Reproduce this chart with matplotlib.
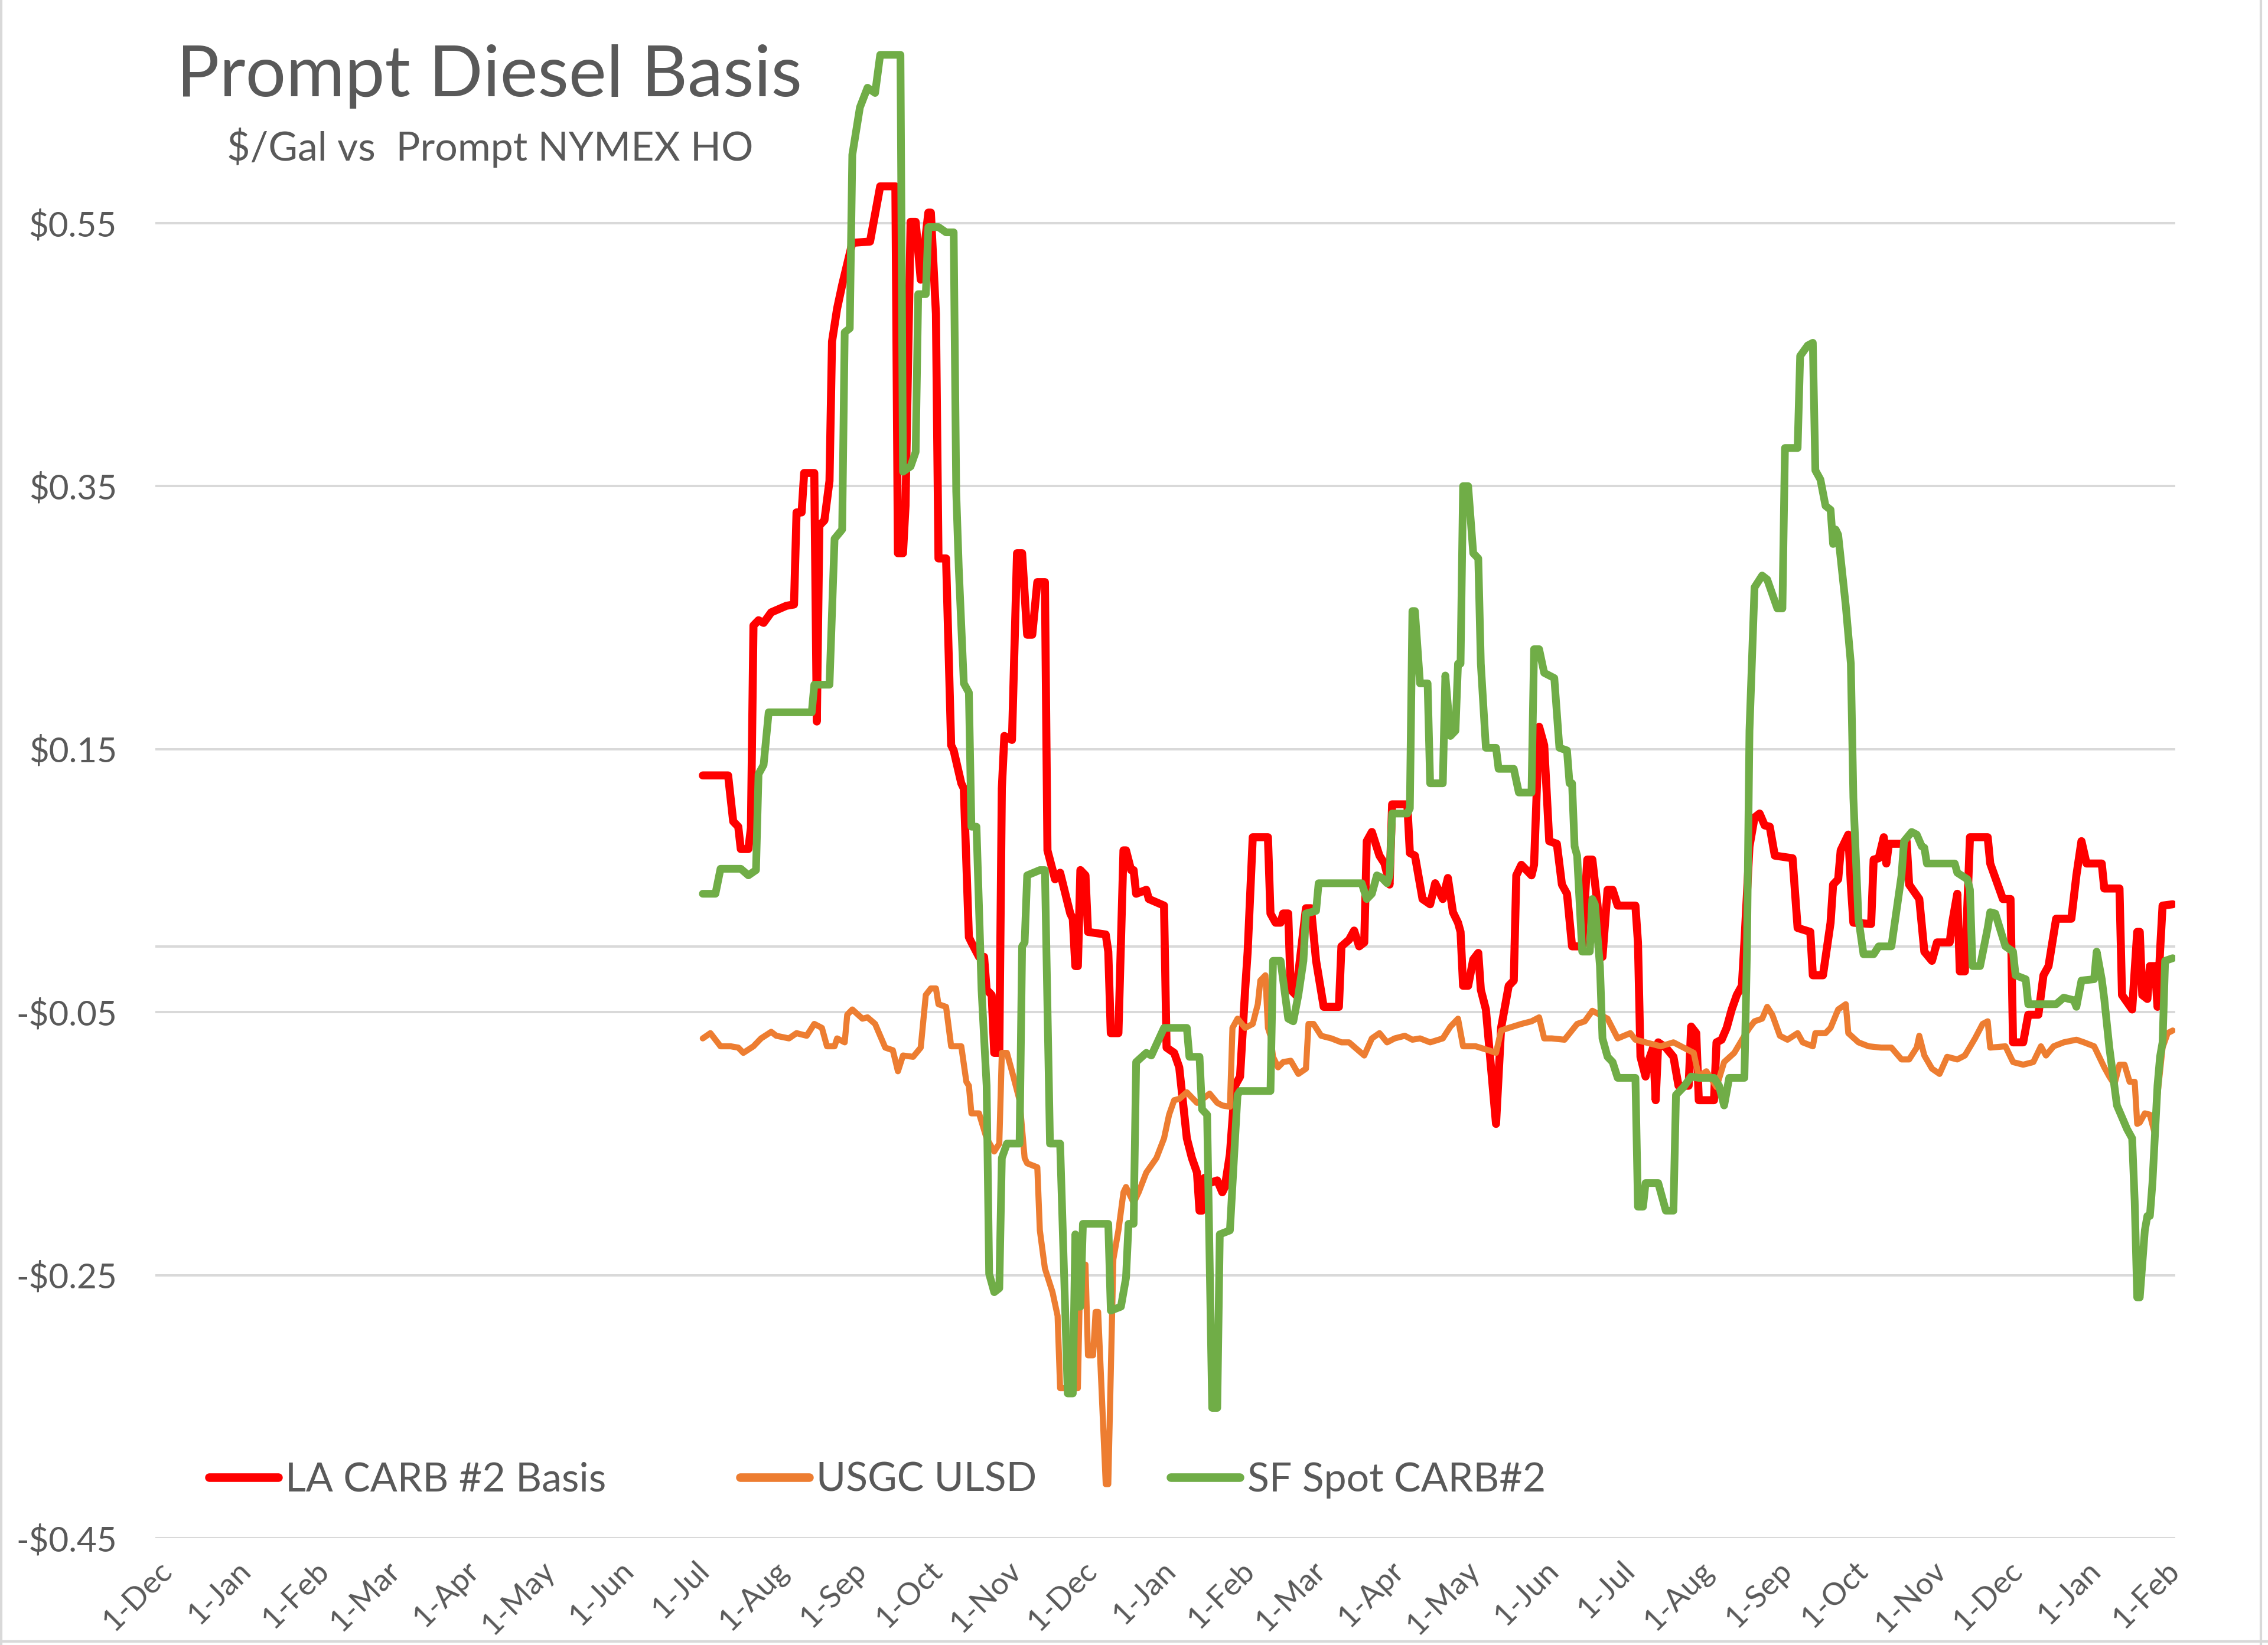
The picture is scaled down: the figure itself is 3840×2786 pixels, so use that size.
import matplotlib
matplotlib.use('Agg')
import matplotlib.pyplot as plt
import matplotlib.dates as mdates
import pandas as pd

plt.rcParams['font.family'] = ['Lato', 'DejaVu Sans']

# basis vs prompt NYMEX HO, $/gal
la_carb = [
    ('2022-07-04', 0.130), ('2022-07-14', 0.130), ('2022-07-16', 0.095), ('2022-07-18', 0.091),
    ('2022-07-19', 0.074), ('2022-07-22', 0.074), ('2022-07-23', 0.090), ('2022-07-24', 0.244),
    ('2022-07-26', 0.248), ('2022-07-28', 0.246), ('2022-07-31', 0.254), ('2022-08-06', 0.259),
    ('2022-08-09', 0.260), ('2022-08-10', 0.330), ('2022-08-12', 0.330), ('2022-08-13', 0.360),
    ('2022-08-17', 0.360), ('2022-08-18', 0.171), ('2022-08-19', 0.320), ('2022-08-21', 0.324),
    ('2022-08-23', 0.354), ('2022-08-24', 0.460), ('2022-08-26', 0.485), ('2022-08-28', 0.503),
    ('2022-09-01', 0.535), ('2022-09-08', 0.536), ('2022-09-12', 0.578), ('2022-09-18', 0.578),
    ('2022-09-19', 0.299), ('2022-09-21', 0.299), ('2022-09-22', 0.335), ('2022-09-24', 0.551),
    ('2022-09-26', 0.551), ('2022-09-28', 0.507), ('2022-10-01', 0.558), ('2022-10-02', 0.558),
    ('2022-10-04', 0.481), ('2022-10-05', 0.295), ('2022-10-08', 0.295), ('2022-10-10', 0.153),
    ('2022-10-11', 0.149), ('2022-10-14', 0.124), ('2022-10-15', 0.120), ('2022-10-17', 0.007),
    ('2022-10-18', 0.003), ('2022-10-21', -0.008), ('2022-10-23', -0.008), ('2022-10-24', -0.033),
    ('2022-10-26', -0.037), ('2022-10-27', -0.081), ('2022-10-29', -0.081), ('2022-10-30', 0.120),
    ('2022-10-31', 0.160), ('2022-11-03', 0.157), ('2022-11-05', 0.299), ('2022-11-07', 0.299),
    ('2022-11-09', 0.237), ('2022-11-11', 0.237), ('2022-11-13', 0.277), ('2022-11-16', 0.277),
    ('2022-11-17', 0.073), ('2022-11-20', 0.051), ('2022-11-22', 0.056), ('2022-11-26', 0.025),
    ('2022-11-27', 0.021), ('2022-11-28', -0.015), ('2022-11-29', -0.015), ('2022-11-30', 0.058),
    ('2022-12-02', 0.054), ('2022-12-03', 0.011), ('2022-12-10', 0.009), ('2022-12-11', -0.004),
    ('2022-12-12', -0.066), ('2022-12-15', -0.066), ('2022-12-17', 0.073), ('2022-12-18', 0.073),
    ('2022-12-20', 0.058), ('2022-12-21', 0.058), ('2022-12-22', 0.040), ('2022-12-26', 0.043),
    ('2022-12-27', 0.036), ('2023-01-02', 0.031), ('2023-01-03', -0.077), ('2023-01-06', -0.081),
    ('2023-01-08', -0.092), ('2023-01-11', -0.146), ('2023-01-13', -0.161), ('2023-01-15', -0.172),
    ('2023-01-16', -0.201), ('2023-01-17', -0.201), ('2023-01-18', -0.176), ('2023-01-20', -0.180),
    ('2023-01-23', -0.178), ('2023-01-25', -0.187), ('2023-01-26', -0.183), ('2023-01-28', -0.158),
    ('2023-01-30', -0.106), ('2023-02-01', -0.099), ('2023-02-03', -0.033), ('2023-02-04', -0.004),
    ('2023-02-06', 0.083), ('2023-02-12', 0.083), ('2023-02-13', 0.025), ('2023-02-15', 0.018),
    ('2023-02-17', 0.018), ('2023-02-18', 0.025), ('2023-02-20', 0.025), ('2023-02-21', -0.033),
    ('2023-02-23', -0.037), ('2023-02-25', -0.004), ('2023-02-27', 0.029), ('2023-03-01', 0.029),
    ('2023-03-03', -0.011), ('2023-03-06', -0.046), ('2023-03-12', -0.046), ('2023-03-13', 0.000),
    ('2023-03-16', 0.005), ('2023-03-18', 0.012), ('2023-03-20', 0.000), ('2023-03-22', 0.003),
    ('2023-03-23', 0.080), ('2023-03-25', 0.087), ('2023-03-28', 0.069), ('2023-03-30', 0.063),
    ('2023-04-01', 0.047), ('2023-04-02', 0.108), ('2023-04-08', 0.108), ('2023-04-09', 0.071),
    ('2023-04-11', 0.069), ('2023-04-14', 0.036), ('2023-04-17', 0.032), ('2023-04-19', 0.048),
    ('2023-04-22', 0.036), ('2023-04-24', 0.052), ('2023-04-26', 0.026), ('2023-04-28', 0.018),
    ('2023-04-29', 0.011), ('2023-04-30', -0.030), ('2023-05-02', -0.030), ('2023-05-04', -0.010),
    ('2023-05-06', -0.005), ('2023-05-07', -0.033), ('2023-05-09', -0.048), ('2023-05-13', -0.135),
    ('2023-05-15', -0.062), ('2023-05-18', -0.030), ('2023-05-20', -0.026), ('2023-05-21', 0.054),
    ('2023-05-23', 0.062), ('2023-05-27', 0.054), ('2023-05-28', 0.062), ('2023-05-30', 0.167),
    ('2023-06-01', 0.153), ('2023-06-03', 0.080), ('2023-06-06', 0.078), ('2023-06-08', 0.047),
    ('2023-06-10', 0.040), ('2023-06-12', 0.000), ('2023-06-16', 0.000), ('2023-06-18', 0.066),
    ('2023-06-20', 0.066), ('2023-06-22', 0.032), ('2023-06-24', -0.008), ('2023-06-26', 0.043),
    ('2023-06-28', 0.043), ('2023-06-30', 0.031), ('2023-07-07', 0.031), ('2023-07-08', 0.003),
    ('2023-07-09', -0.084), ('2023-07-11', -0.099), ('2023-07-12', -0.088), ('2023-07-14', -0.077),
    ('2023-07-15', -0.117), ('2023-07-16', -0.073), ('2023-07-19', -0.077), ('2023-07-22', -0.084),
    ('2023-07-24', -0.106), ('2023-07-28', -0.106), ('2023-07-29', -0.061), ('2023-07-31', -0.066),
    ('2023-08-01', -0.117), ('2023-08-07', -0.117), ('2023-08-08', -0.073), ('2023-08-10', -0.071),
    ('2023-08-12', -0.062), ('2023-08-14', -0.048), ('2023-08-16', -0.037), ('2023-08-18', -0.030),
    ('2023-08-19', 0.003), ('2023-08-21', 0.076), ('2023-08-23', 0.098), ('2023-08-25', 0.101),
    ('2023-08-27', 0.092), ('2023-08-29', 0.091), ('2023-08-31', 0.069), ('2023-09-07', 0.067),
    ('2023-09-09', 0.014), ('2023-09-14', 0.011), ('2023-09-15', -0.022), ('2023-09-19', -0.022),
    ('2023-09-22', 0.018), ('2023-09-23', 0.047), ('2023-09-25', 0.051), ('2023-09-26', 0.073),
    ('2023-09-29', 0.085), ('2023-09-30', 0.047), ('2023-10-01', 0.018), ('2023-10-08', 0.017),
    ('2023-10-09', 0.066), ('2023-10-11', 0.067), ('2023-10-13', 0.083), ('2023-10-14', 0.063),
    ('2023-10-15', 0.078), ('2023-10-20', 0.078), ('2023-10-22', 0.080), ('2023-10-23', 0.047),
    ('2023-10-27', 0.036), ('2023-10-29', -0.004), ('2023-11-01', -0.011), ('2023-11-03', 0.003),
    ('2023-11-08', 0.003), ('2023-11-09', 0.018), ('2023-11-11', 0.040), ('2023-11-12', -0.019),
    ('2023-11-14', -0.019), ('2023-11-16', 0.083), ('2023-11-23', 0.083), ('2023-11-24', 0.063),
    ('2023-11-29', 0.036), ('2023-12-02', 0.036), ('2023-12-03', -0.073), ('2023-12-07', -0.073),
    ('2023-12-09', -0.052), ('2023-12-13', -0.052), ('2023-12-15', -0.022), ('2023-12-17', -0.015),
    ('2023-12-20', 0.021), ('2023-12-26', 0.021), ('2023-12-28', 0.054), ('2023-12-30', 0.080),
    ('2024-01-01', 0.063), ('2024-01-07', 0.063), ('2024-01-08', 0.044), ('2024-01-14', 0.044),
    ('2024-01-15', -0.037), ('2024-01-19', -0.048), ('2024-01-21', 0.011), ('2024-01-22', 0.011),
    ('2024-01-23', -0.037), ('2024-01-25', -0.040), ('2024-01-26', -0.015), ('2024-01-28', -0.015),
    ('2024-01-29', -0.046), ('2024-01-30', -0.004), ('2024-01-31', 0.031), ('2024-02-04', 0.032),
]

usgc_ulsd = [
    ('2022-07-04', -0.070), ('2022-07-07', -0.066), ('2022-07-11', -0.076), ('2022-07-15', -0.076),
    ('2022-07-18', -0.077), ('2022-07-20', -0.081), ('2022-07-24', -0.076), ('2022-07-27', -0.070),
    ('2022-07-31', -0.065), ('2022-08-02', -0.068), ('2022-08-07', -0.070), ('2022-08-10', -0.066),
    ('2022-08-14', -0.068), ('2022-08-17', -0.059), ('2022-08-20', -0.062), ('2022-08-22', -0.076),
    ('2022-08-25', -0.076), ('2022-08-26', -0.070), ('2022-08-29', -0.073), ('2022-08-30', -0.052),
    ('2022-09-01', -0.048), ('2022-09-05', -0.055), ('2022-09-07', -0.054), ('2022-09-10', -0.059),
    ('2022-09-14', -0.077), ('2022-09-17', -0.079), ('2022-09-19', -0.095), ('2022-09-21', -0.083),
    ('2022-09-25', -0.084), ('2022-09-28', -0.077), ('2022-09-30', -0.037), ('2022-10-02', -0.032),
    ('2022-10-04', -0.032), ('2022-10-05', -0.044), ('2022-10-08', -0.046), ('2022-10-10', -0.076),
    ('2022-10-14', -0.076), ('2022-10-16', -0.103), ('2022-10-17', -0.106), ('2022-10-18', -0.127),
    ('2022-10-21', -0.127), ('2022-10-24', -0.146), ('2022-10-27', -0.156), ('2022-10-29', -0.150),
    ('2022-10-30', -0.081), ('2022-11-01', -0.081), ('2022-11-03', -0.095), ('2022-11-06', -0.117),
    ('2022-11-08', -0.161), ('2022-11-09', -0.165), ('2022-11-13', -0.168), ('2022-11-14', -0.216),
    ('2022-11-16', -0.245), ('2022-11-19', -0.263), ('2022-11-21', -0.281), ('2022-11-22', -0.336),
    ('2022-11-29', -0.336), ('2022-11-30', -0.242), ('2022-12-02', -0.242), ('2022-12-03', -0.311),
    ('2022-12-05', -0.311), ('2022-12-06', -0.278), ('2022-12-07', -0.278), ('2022-12-10', -0.409),
    ('2022-12-11', -0.409), ('2022-12-13', -0.238), ('2022-12-15', -0.216), ('2022-12-17', -0.187),
    ('2022-12-18', -0.183), ('2022-12-21', -0.195), ('2022-12-23', -0.187), ('2022-12-26', -0.172),
    ('2022-12-30', -0.161), ('2023-01-02', -0.146), ('2023-01-04', -0.128), ('2023-01-06', -0.117),
    ('2023-01-08', -0.116), ('2023-01-11', -0.111), ('2023-01-15', -0.119), ('2023-01-18', -0.115),
    ('2023-01-20', -0.112), ('2023-01-23', -0.119), ('2023-01-25', -0.121), ('2023-01-28', -0.122),
    ('2023-01-29', -0.062), ('2023-01-31', -0.055), ('2023-02-03', -0.062), ('2023-02-06', -0.059),
    ('2023-02-08', -0.044), ('2023-02-09', -0.026), ('2023-02-11', -0.022), ('2023-02-12', -0.062),
    ('2023-02-13', -0.068), ('2023-02-14', -0.084), ('2023-02-16', -0.092), ('2023-02-18', -0.088),
    ('2023-02-21', -0.087), ('2023-02-24', -0.097), ('2023-02-27', -0.093), ('2023-02-28', -0.059),
    ('2023-03-02', -0.059), ('2023-03-05', -0.068), ('2023-03-09', -0.070), ('2023-03-13', -0.073),
    ('2023-03-16', -0.073), ('2023-03-19', -0.078), ('2023-03-22', -0.083), ('2023-03-25', -0.070),
    ('2023-03-28', -0.066), ('2023-03-31', -0.073), ('2023-04-03', -0.070), ('2023-04-07', -0.068),
    ('2023-04-10', -0.071), ('2023-04-13', -0.070), ('2023-04-17', -0.073), ('2023-04-22', -0.070),
    ('2023-04-25', -0.061), ('2023-04-28', -0.055), ('2023-04-30', -0.076), ('2023-05-05', -0.076),
    ('2023-05-10', -0.079), ('2023-05-13', -0.081), ('2023-05-15', -0.064), ('2023-05-18', -0.062),
    ('2023-05-23', -0.059), ('2023-05-27', -0.057), ('2023-05-30', -0.054), ('2023-06-01', -0.070),
    ('2023-06-04', -0.070), ('2023-06-09', -0.071), ('2023-06-14', -0.059), ('2023-06-17', -0.057),
    ('2023-06-20', -0.049), ('2023-06-26', -0.055), ('2023-06-30', -0.070), ('2023-07-05', -0.066),
    ('2023-07-07', -0.071), ('2023-07-11', -0.073), ('2023-07-17', -0.076), ('2023-07-22', -0.073),
    ('2023-07-26', -0.077), ('2023-07-30', -0.081), ('2023-08-01', -0.099), ('2023-08-04', -0.095),
    ('2023-08-08', -0.107), ('2023-08-11', -0.088), ('2023-08-15', -0.081), ('2023-08-19', -0.068),
    ('2023-08-21', -0.062), ('2023-08-23', -0.057), ('2023-08-26', -0.055), ('2023-08-28', -0.046),
    ('2023-08-30', -0.052), ('2023-09-02', -0.068), ('2023-09-05', -0.071), ('2023-09-09', -0.066),
    ('2023-09-11', -0.073), ('2023-09-15', -0.076), ('2023-09-16', -0.066), ('2023-09-20', -0.066),
    ('2023-09-22', -0.062), ('2023-09-25', -0.048), ('2023-09-28', -0.044), ('2023-09-29', -0.066),
    ('2023-10-03', -0.073), ('2023-10-07', -0.076), ('2023-10-12', -0.077), ('2023-10-16', -0.077),
    ('2023-10-20', -0.086), ('2023-10-23', -0.086), ('2023-10-26', -0.077), ('2023-10-27', -0.068),
    ('2023-10-29', -0.083), ('2023-11-01', -0.093), ('2023-11-04', -0.097), ('2023-11-07', -0.084),
    ('2023-11-11', -0.086), ('2023-11-14', -0.083), ('2023-11-18', -0.070), ('2023-11-21', -0.059),
    ('2023-11-23', -0.057), ('2023-11-24', -0.077), ('2023-11-30', -0.076), ('2023-12-03', -0.088),
    ('2023-12-07', -0.090), ('2023-12-11', -0.088), ('2023-12-14', -0.076), ('2023-12-16', -0.083),
    ('2023-12-19', -0.076), ('2023-12-23', -0.073), ('2023-12-28', -0.071), ('2023-12-31', -0.073),
    ('2024-01-04', -0.076), ('2024-01-08', -0.092), ('2024-01-10', -0.099), ('2024-01-12', -0.105),
    ('2024-01-14', -0.090), ('2024-01-16', -0.090), ('2024-01-18', -0.103), ('2024-01-20', -0.103),
    ('2024-01-21', -0.135), ('2024-01-22', -0.134), ('2024-01-24', -0.127), ('2024-01-26', -0.128),
    ('2024-01-28', -0.143), ('2024-01-29', -0.113), ('2024-01-31', -0.077), ('2024-02-02', -0.066),
    ('2024-02-04', -0.064),
]

sf_spot = [
    ('2022-07-04', 0.040), ('2022-07-09', 0.040), ('2022-07-11', 0.059), ('2022-07-19', 0.059),
    ('2022-07-22', 0.054), ('2022-07-25', 0.058), ('2022-07-26', 0.131), ('2022-07-28', 0.138),
    ('2022-07-30', 0.178), ('2022-08-16', 0.178), ('2022-08-17', 0.199), ('2022-08-23', 0.199),
    ('2022-08-25', 0.310), ('2022-08-28', 0.317), ('2022-08-29', 0.467), ('2022-08-31', 0.470),
    ('2022-09-01', 0.602), ('2022-09-04', 0.638), ('2022-09-07', 0.653), ('2022-09-10', 0.649),
    ('2022-09-12', 0.678), ('2022-09-20', 0.678), ('2022-09-21', 0.361), ('2022-09-24', 0.365),
    ('2022-09-26', 0.376), ('2022-09-27', 0.496), ('2022-09-30', 0.496), ('2022-10-01', 0.547),
    ('2022-10-05', 0.547), ('2022-10-08', 0.543), ('2022-10-11', 0.543), ('2022-10-12', 0.346),
    ('2022-10-13', 0.288), ('2022-10-15', 0.200), ('2022-10-17', 0.193), ('2022-10-18', 0.091),
    ('2022-10-20', 0.091), ('2022-10-22', -0.033), ('2022-10-24', -0.106), ('2022-10-25', -0.249),
    ('2022-10-27', -0.263), ('2022-10-29', -0.260), ('2022-10-30', -0.161), ('2022-11-01', -0.150),
    ('2022-11-06', -0.150), ('2022-11-07', 0.000), ('2022-11-08', 0.003), ('2022-11-09', 0.054),
    ('2022-11-14', 0.058), ('2022-11-16', 0.058), ('2022-11-18', -0.150), ('2022-11-22', -0.150),
    ('2022-11-25', -0.340), ('2022-11-27', -0.340), ('2022-11-28', -0.219), ('2022-11-29', -0.274),
    ('2022-11-30', -0.274), ('2022-12-01', -0.211), ('2022-12-11', -0.211), ('2022-12-12', -0.277),
    ('2022-12-16', -0.274), ('2022-12-18', -0.252), ('2022-12-19', -0.211), ('2022-12-21', -0.211),
    ('2022-12-22', -0.088), ('2022-12-26', -0.081), ('2022-12-28', -0.083), ('2023-01-02', -0.062),
    ('2023-01-11', -0.062), ('2023-01-12', -0.084), ('2023-01-16', -0.084), ('2023-01-17', -0.124),
    ('2023-01-19', -0.128), ('2023-01-21', -0.351), ('2023-01-23', -0.351), ('2023-01-24', -0.219),
    ('2023-01-28', -0.216), ('2023-01-31', -0.113), ('2023-02-01', -0.110), ('2023-02-13', -0.110),
    ('2023-02-14', -0.011), ('2023-02-17', -0.011), ('2023-02-20', -0.055), ('2023-02-22', -0.057),
    ('2023-02-24', -0.037), ('2023-02-26', -0.011), ('2023-02-27', 0.025), ('2023-03-03', 0.027),
    ('2023-03-04', 0.048), ('2023-03-21', 0.048), ('2023-03-23', 0.036), ('2023-03-25', 0.040),
    ('2023-03-27', 0.054), ('2023-03-29', 0.052), ('2023-03-31', 0.048), ('2023-04-01', 0.054),
    ('2023-04-02', 0.101), ('2023-04-08', 0.101), ('2023-04-09', 0.105), ('2023-04-10', 0.255),
    ('2023-04-11', 0.255), ('2023-04-13', 0.200), ('2023-04-16', 0.200), ('2023-04-17', 0.124),
    ('2023-04-22', 0.124), ('2023-04-23', 0.206), ('2023-04-25', 0.160), ('2023-04-27', 0.164),
    ('2023-04-28', 0.215), ('2023-04-29', 0.215), ('2023-04-30', 0.350), ('2023-05-02', 0.350),
    ('2023-05-04', 0.299), ('2023-05-06', 0.295), ('2023-05-07', 0.215), ('2023-05-09', 0.151),
    ('2023-05-13', 0.151), ('2023-05-14', 0.135), ('2023-05-20', 0.135), ('2023-05-22', 0.117),
    ('2023-05-27', 0.117), ('2023-05-28', 0.226), ('2023-05-30', 0.226), ('2023-06-01', 0.208),
    ('2023-06-05', 0.204), ('2023-06-07', 0.151), ('2023-06-10', 0.149), ('2023-06-11', 0.124),
    ('2023-06-12', 0.124), ('2023-06-13', 0.076), ('2023-06-14', 0.069), ('2023-06-16', -0.004),
    ('2023-06-19', -0.004), ('2023-06-20', 0.036), ('2023-06-21', 0.032), ('2023-06-23', -0.015),
    ('2023-06-24', -0.070), ('2023-06-26', -0.084), ('2023-06-28', -0.088), ('2023-06-30', -0.100),
    ('2023-07-07', -0.100), ('2023-07-08', -0.198), ('2023-07-10', -0.198), ('2023-07-11', -0.180),
    ('2023-07-16', -0.180), ('2023-07-19', -0.201), ('2023-07-22', -0.201), ('2023-07-23', -0.113),
    ('2023-07-26', -0.107), ('2023-07-29', -0.099), ('2023-08-01', -0.100), ('2023-08-07', -0.100),
    ('2023-08-09', -0.106), ('2023-08-11', -0.121), ('2023-08-13', -0.100), ('2023-08-19', -0.100),
    ('2023-08-20', -0.004), ('2023-08-21', 0.164), ('2023-08-23', 0.273), ('2023-08-26', 0.282),
    ('2023-08-28', 0.279), ('2023-09-01', 0.257), ('2023-09-03', 0.257), ('2023-09-04', 0.379),
    ('2023-09-09', 0.379), ('2023-09-10', 0.449), ('2023-09-13', 0.457), ('2023-09-15', 0.459),
    ('2023-09-16', 0.362), ('2023-09-18', 0.355), ('2023-09-20', 0.335), ('2023-09-22', 0.332),
    ('2023-09-23', 0.306), ('2023-09-24', 0.317), ('2023-09-25', 0.313), ('2023-09-28', 0.259),
    ('2023-09-30', 0.215), ('2023-10-01', 0.113), ('2023-10-03', 0.021), ('2023-10-05', -0.006),
    ('2023-10-09', -0.006), ('2023-10-11', 0.000), ('2023-10-16', 0.000), ('2023-10-20', 0.054),
    ('2023-10-21', 0.080), ('2023-10-24', 0.087), ('2023-10-26', 0.085), ('2023-10-28', 0.076),
    ('2023-10-29', 0.075), ('2023-10-30', 0.063), ('2023-11-10', 0.063), ('2023-11-11', 0.056),
    ('2023-11-15', 0.051), ('2023-11-16', 0.043), ('2023-11-17', -0.015), ('2023-11-20', -0.015),
    ('2023-11-23', 0.014), ('2023-11-24', 0.026), ('2023-11-26', 0.025), ('2023-11-30', 0.000),
    ('2023-12-03', -0.004), ('2023-12-04', -0.022), ('2023-12-08', -0.025), ('2023-12-09', -0.044),
    ('2023-12-20', -0.044), ('2023-12-23', -0.039), ('2023-12-27', -0.041), ('2023-12-28', -0.046),
    ('2023-12-30', -0.026), ('2024-01-04', -0.025), ('2024-01-05', -0.004), ('2024-01-07', -0.025),
    ('2024-01-08', -0.040), ('2024-01-10', -0.077), ('2024-01-13', -0.121), ('2024-01-17', -0.139),
    ('2024-01-19', -0.146), ('2024-01-20', -0.194), ('2024-01-21', -0.267), ('2024-01-22', -0.267),
    ('2024-01-24', -0.216), ('2024-01-25', -0.205), ('2024-01-26', -0.205), ('2024-01-27', -0.180),
    ('2024-01-28', -0.143), ('2024-01-29', -0.106), ('2024-01-30', -0.084), ('2024-01-31', -0.073),
    ('2024-02-01', -0.011), ('2024-02-04', -0.009),
]

series_names = ['LA CARB #2 Basis', 'USGC ULSD', 'SF Spot CARB#2']
series_colors = ['#FF0000', '#ED7D31', '#70AD47']
series_widths = [9.8, 7.4, 9.4]
y_ticks = [-0.45, -0.25, -0.05, 0.15, 0.35, 0.55]

grey = '#595959'
grid_col = '#D9D9D9'


def money(v, pos=None):
    if v < 0:
        return '-$%.2f' % abs(v)
    return '$%.2f' % v


fig = plt.figure(figsize=(38.4, 27.86), dpi=100)
ax = fig.add_axes([0.0685, 0.065, 0.8906, 0.935])

for data, name, col, lw in zip([la_carb, usgc_ulsd, sf_spot], series_names, series_colors, series_widths):
    dates = pd.to_datetime([d for d, v in data])
    vals = [v for d, v in data]
    ax.plot(dates, vals, color=col, lw=lw, label=name,
            solid_joinstyle='round', solid_capstyle='round')

ax.set_ylim(-0.45, 0.7197)
ax.set_xlim(pd.Timestamp('2021-11-30'), pd.Timestamp('2024-02-05'))
ax.set_yticks(y_ticks)
ax.yaxis.set_major_formatter(plt.FuncFormatter(money))
ax.xaxis.set_major_locator(mdates.MonthLocator(bymonthday=1))
ax.xaxis.set_major_formatter(mdates.DateFormatter('1-%b'))

ax.set_axisbelow(True)
ax.yaxis.grid(True, color=grid_col, lw=2.9)
ax.axhline(0, color=grid_col, lw=2.9, zorder=0.5)
for s in ax.spines.values():
    s.set_visible(False)

ax.tick_params(axis='y', length=0, pad=47, labelsize=42, labelcolor=grey)
ax.tick_params(axis='x', length=0, pad=22, labelsize=38, labelcolor=grey)
for lab in ax.get_xticklabels():
    lab.set_rotation(45)
    lab.set_ha('right')
    lab.set_va('top')
    lab.set_rotation_mode('anchor')

leg = ax.legend(loc='center left', bbox_to_anchor=(0.0266, 0.0376), ncol=3, frameon=False,
                fontsize=49, handlelength=1.72, handletextpad=0.18, columnspacing=3.33,
                borderpad=0, borderaxespad=0, labelcolor=grey)
for ln in leg.get_lines():
    ln.set_linewidth(10.5)

fig.text(0.0779, 0.9415, 'Prompt Diesel Basis', fontsize=87, color=grey, va='baseline')
fig.text(0.1, 0.9024, '$/Gal vs  Prompt NYMEX HO', fontsize=49, color=grey, va='baseline')

# thin grey frame round the chart
for xs, ys in [([0.0006, 0.0006], [0, 1]), ([0, 1], [0.0022, 0.0022]), ([0.9968, 0.9968], [0, 1])]:
    fig.add_artist(plt.Line2D(xs, ys, transform=fig.transFigure, color=grid_col, lw=3))

fig.savefig('out.png', dpi=100)
